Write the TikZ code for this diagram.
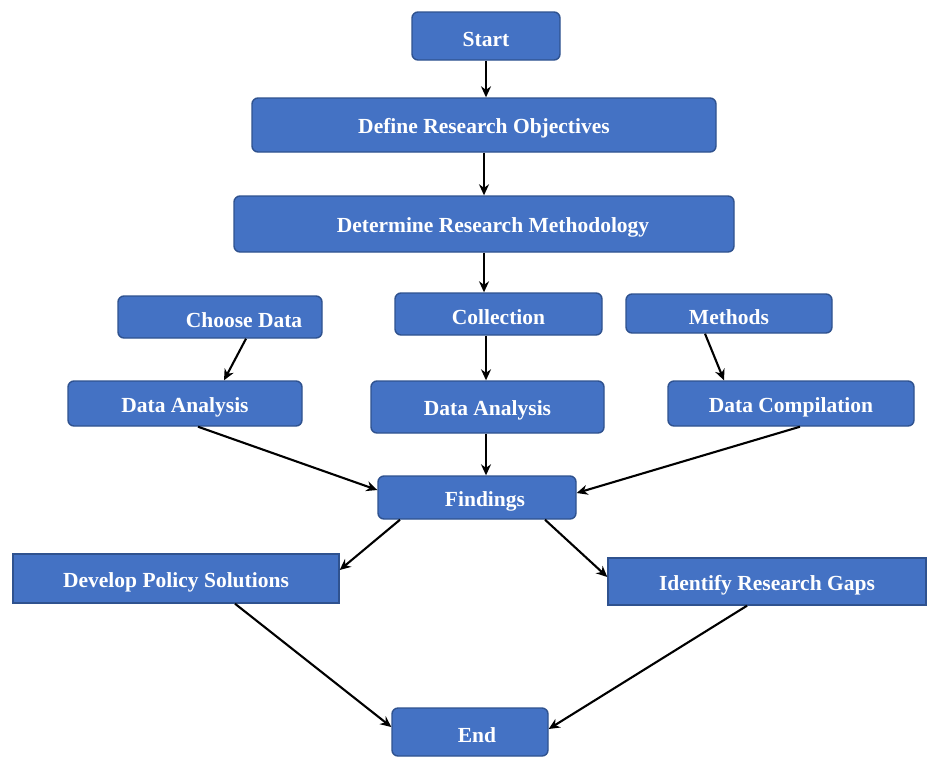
\documentclass[tikz,border=0pt]{standalone}
\usepackage{fontspec}
\setmainfont{Liberation Serif}
\usetikzlibrary{arrows.meta}
\definecolor{boxfill}{RGB}{68,114,196}
\definecolor{boxline}{RGB}{47,82,143}
\newcommand{\lowtxt}[1]{\raisebox{-3.5pt}[\height][\depth]{#1}}
\tikzset{
  box/.style={draw=boxline, line width=1.4pt, fill=boxfill, rounded corners=6pt,
    text=white, font=\fontsize{21.5}{25}\selectfont\bfseries, inner sep=0pt, anchor=center},
  sqbox/.style={box, rounded corners=0pt},
  arr/.style={-{Stealth[length=11pt,width=10pt]}, line width=2.1pt, black}
}
\begin{document}
\begin{tikzpicture}[x=1pt,y=-1pt]
\useasboundingbox[fill=white] (0,0) rectangle (928,758);
\node[box, minimum width=148pt, minimum height=48pt] (start) at (486,36) {\lowtxt{Start}};
\node[box, minimum width=464pt, minimum height=54pt] (define) at (484,125) {\lowtxt{Define Research Objectives}};
\node[box, minimum width=500pt, minimum height=56pt] (determine) at (484,224) {\lowtxt{\hspace*{18pt}Determine Research Methodology}};
\node[box, minimum width=204pt, minimum height=42pt] (choose) at (220,317) {\lowtxt{\hspace*{48pt}Choose Data}};
\node[box, minimum width=207pt, minimum height=42pt] (collection) at (498.5,314) {\lowtxt{Collection}};
\node[box, minimum width=206pt, minimum height=39pt] (methods) at (729,313.5) {\lowtxt{Methods}};
\node[box, minimum width=234pt, minimum height=45pt] (dal) at (185,403.5) {\lowtxt{Data Analysis}};
\node[box, minimum width=233pt, minimum height=52pt] (dam) at (487.5,407) {\lowtxt{Data Analysis}};
\node[box, minimum width=246pt, minimum height=45pt] (comp) at (791,403.5) {\lowtxt{Data Compilation}};
\node[box, minimum width=198pt, minimum height=43pt] (findings) at (477,497.5) {\lowtxt{\hspace*{16pt}Findings}};
\node[sqbox, minimum width=326pt, minimum height=49pt] (develop) at (176,578.5) {\lowtxt{Develop Policy Solutions}};
\node[sqbox, minimum width=318pt, minimum height=47pt] (identify) at (767,581.5) {\lowtxt{Identify Research Gaps}};
\node[box, minimum width=156pt, minimum height=48pt] (end) at (470,732) {\lowtxt{\hspace*{14pt}End}};

\draw[arr] (start.south) -- (start.south |- define.north);
\draw[arr] (define.south) -- (define.south |- determine.north);
\draw[arr] (determine.south) -- (determine.south |- collection.north);
\draw[arr] ([xshift=26pt]choose.south) -- ([xshift=39pt]dal.north);
\draw[arr] ([xshift=-12.5pt]collection.south) -- ([xshift=-12.5pt]collection.south |- dam.north);
\draw[arr] ([xshift=-24pt]methods.south) -- ([xshift=-67pt]comp.north);
\draw[arr] ([xshift=13pt]dal.south) -- ([yshift=7.5pt]findings.west);
\draw[arr] ([xshift=-1.5pt]dam.south) -- ([xshift=-1.5pt]dam.south |- findings.north);
\draw[arr] ([xshift=9pt]comp.south) -- ([yshift=4.5pt]findings.east);
\draw[arr] ([xshift=-77pt]findings.south) -- ([yshift=8.5pt]develop.east);
\draw[arr] ([xshift=68pt]findings.south) -- ([yshift=4.5pt]identify.west);
\draw[arr] ([xshift=59pt]develop.south) -- ([yshift=5pt]end.west);
\draw[arr] ([xshift=-20pt]identify.south) -- ([yshift=3pt]end.east);
\end{tikzpicture}
\end{document}
